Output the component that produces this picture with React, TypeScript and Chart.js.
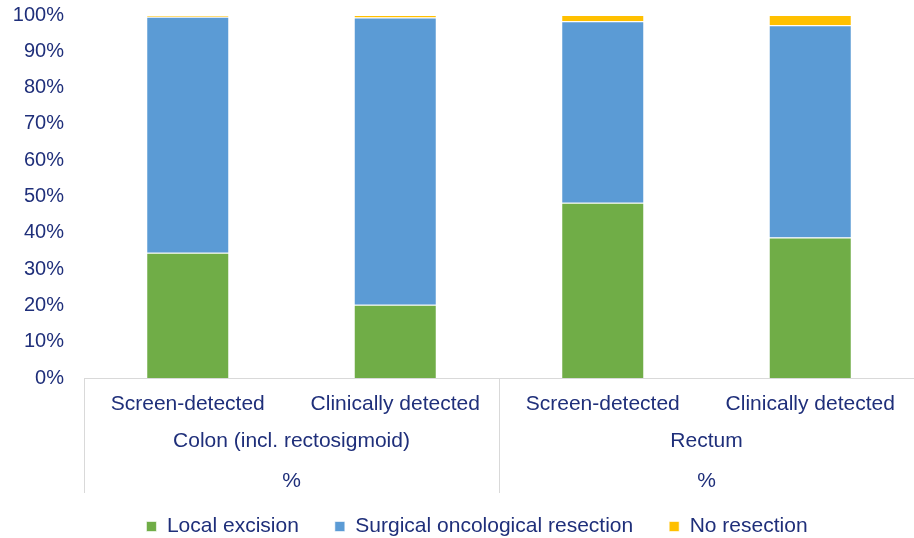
import React, { useEffect, useRef } from "react";
import { Chart, registerables } from "chart.js";

Chart.register(...registerables);

const categories = ["Screen-detected", "Clinically detected", "Screen-detected", "Clinically detected"];
const groups = ["Colon (incl. rectosigmoid)", "Rectum"];
const groupSizes = [2, 2];
const unitRow = ["%", "%"];
const localExcision = [34.5, 20.2, 48.3, 38.7];
const surgicalResection = [65.0, 79.1, 50.0, 58.5];
const noResection = [0.5, 0.7, 1.7, 2.8];
const yTicks = [0, 10, 20, 30, 40, 50, 60, 70, 80, 90, 100];

const TEXT = "#1F2F7A";
const FONT = "'Liberation Sans', Arial, sans-serif";
const LINE = "#D9D9D9";

const groupPlugin = {
  id: "groupAxis",
  afterLayout(chart: any) {
    if (chart.legend) {
      chart.legend.left += 20;
      chart.legend.right += 20;
    }
  },
  afterDraw(chart: any) {
    const { ctx, scales, chartArea } = chart;
    const x = scales.x;
    const top = chartArea.bottom;
    const bottom = top + 115;
    ctx.save();
    ctx.strokeStyle = LINE;
    ctx.lineWidth = 1;
    let start = 0;
    const bounds: number[] = [];
    const half = (x.getPixelForValue(1) - x.getPixelForValue(0)) / 2;
    bounds.push(x.getPixelForValue(0) - half);
    groupSizes.forEach((n) => {
      start += n;
      bounds.push(x.getPixelForValue(start - 1) + half);
    });
    bounds.slice(0, bounds.length - 1).forEach((b) => {
      const px = Math.round(b) + 0.5;
      ctx.beginPath();
      ctx.moveTo(px, top);
      ctx.lineTo(px, bottom);
      ctx.stroke();
    });
    ctx.fillStyle = TEXT;
    ctx.font = `21px ${FONT}`;
    ctx.textAlign = "center";
    ctx.textBaseline = "middle";
    groups.forEach((g, i) => {
      const cx = (bounds[i] + bounds[i + 1]) / 2;
      ctx.fillText(g, cx, top + 63);
      ctx.fillText(unitRow[i], cx, top + 103);
    });
    ctx.restore();
  },
};

export default function App() {
  const ref = useRef<HTMLCanvasElement | null>(null);
  useEffect(() => {
    document.body.style.margin = "0";
    const chart = new Chart(ref.current as HTMLCanvasElement, {
      type: "bar",
      data: {
        labels: categories,
        datasets: [
          { label: "Local excision", data: localExcision, backgroundColor: "#70AD47", borderColor: "rgba(255,255,255,0.6)", borderWidth: 1 },
          { label: "Surgical oncological resection", data: surgicalResection, backgroundColor: "#5B9BD5", borderColor: "rgba(255,255,255,0.6)", borderWidth: 1 },
          { label: "No resection", data: noResection, backgroundColor: "#FFC000", borderColor: "rgba(255,255,255,0.6)", borderWidth: 1 },
        ],
      },
      options: {
        animation: false,
        responsive: true,
        maintainAspectRatio: false,
        layout: { padding: { top: 15, right: 0, left: 0, bottom: -9 } },
        datasets: { bar: { categoryPercentage: 1, barPercentage: 0.4 } },
        plugins: {
          tooltip: { enabled: false },
          legend: {
            position: "bottom",
            labels: {
              font: { family: FONT, size: 21 },
              color: TEXT,
              boxWidth: 10,
              boxHeight: 10,
              padding: 36,
            },
          },
        },
        scales: {
          x: {
            stacked: true,
            offset: true,
            grid: { display: false },
            border: { display: true, color: LINE },
            ticks: { font: { family: FONT, size: 21 }, color: TEXT, padding: 6, maxRotation: 0 },
            afterFit(scale: any) {
              scale.height = 102;
            },
          },
          y: {
            stacked: true,
            min: 0,
            max: 100,
            grid: { display: false },
            border: { display: false },
            afterBuildTicks(scale: any) {
              scale.ticks = yTicks.map((v) => ({ value: v }));
            },
            afterFit(scale: any) {
              scale.width = 84;
              scale.paddingTop = 0;
            },
            ticks: {
              font: { family: FONT, size: 20 },
              color: TEXT,
              padding: 12,
              callback: (v: any) => `${v}%`,
            },
          },
        },
      },
      plugins: [groupPlugin],
    });
    return () => chart.destroy();
  }, []);
  return (
    <div style={{ width: 914, height: 538, position: "relative" }}>
      <canvas ref={ref} />
    </div>
  );
}
